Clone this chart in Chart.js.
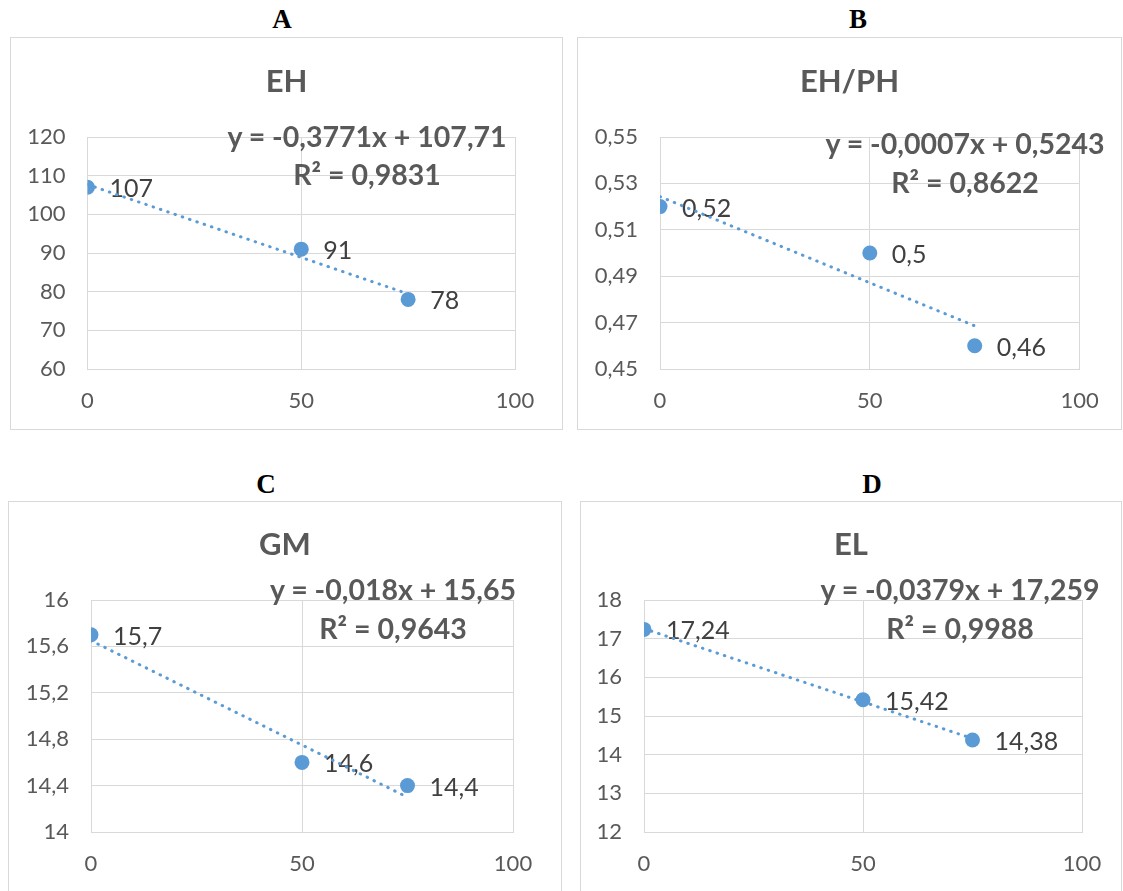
<!DOCTYPE html>
<html>
<head>
<meta charset="utf-8">
<script src="https://cdn.jsdelivr.net/npm/chart.js@4.4.1/dist/chart.umd.min.js"></script>
<style>
  html, body { margin:0; padding:0; background:#fff; width:1123px; height:891px; overflow:hidden; }
  .box { position:absolute; border:1px solid #d9d9d9; box-sizing:border-box; background:#fff; }
  .box canvas { position:absolute; left:0; top:0; }
  .txt { position:absolute; white-space:nowrap; line-height:1; transform:translateX(-50%); }
  .letter { font-family:"Liberation Serif", "DejaVu Serif", serif; font-weight:bold; font-size:27px; color:#000; }
  .title { font-family:Lato, sans-serif; font-weight:bold; font-size:31px; color:#595959; }
  .eq { font-family:Lato, sans-serif; font-weight:bold; font-size:28.5px; color:#595959; }
</style>
</head>
<body>
<script>
// ---- data ----
const doseX = [0, 50, 75];
const ehValues = [107, 91, 78];
const ehphValues = [0.52, 0.5, 0.46];
const gmValues = [15.7, 14.6, 14.4];
const elValues = [17.24, 15.42, 14.38];

// linear trend lines (start/end values from the fitted equations)
const trendX = [0, 75];
const ehTrend = [107.71, 79.43];
const ehphTrend = [0.5243, 0.4686];
const gmTrend = [15.65, 14.30];
const elTrend = [17.259, 14.417];

// axis ticks
const xTicks = [0, 50, 100];
const ehTicks = [60, 70, 80, 90, 100, 110, 120];
const ehphTicks = [0.45, 0.47, 0.49, 0.51, 0.53, 0.55];
const gmTicks = [14, 14.4, 14.8, 15.2, 15.6, 16];
const elTicks = [12, 13, 14, 15, 16, 17, 18];

// labels
const panelLetters = ['A', 'B', 'C', 'D'];
const chartTitles = ['EH', 'EH/PH', 'GM', 'EL'];
const equations = ['y = -0,3771x + 107,71', 'y = -0,0007x + 0,5243', 'y = -0,018x + 15,65', 'y = -0,0379x + 17,259'];
const rSquared = ['R² = 0,9831', 'R² = 0,8622', 'R² = 0,9643', 'R² = 0,9988'];

// ---- layout ----
const layout = [
  { letter:[282, 29], box:{l:10, t:37, w:553, h:393}, plot:{l:86.5, r:514, t:136, b:368}, titleY:92, eqX:367, eqY:[147, 185] },
  { letter:[858, 29], box:{l:577, t:37, w:545, h:393}, plot:{l:659, r:1078.6, t:136, b:368}, titleY:92, eqX:965, eqY:[154, 193] },
  { letter:[266, 494], box:{l:8, t:501, w:554, h:400}, plot:{l:90, r:512, t:599, b:831}, titleY:555, eqX:393, eqY:[600, 639] },
  { letter:[872, 494], box:{l:580, t:501, w:542, h:400}, plot:{l:643, r:1081, t:599, b:831}, titleY:555, eqX:960, eqY:[600, 639] }
];
const seriesList = [ehValues, ehphValues, gmValues, elValues];
const trendList = [ehTrend, ehphTrend, gmTrend, elTrend];
const yTickList = [ehTicks, ehphTicks, gmTicks, elTicks];

const BLUE = '#5B9BD5';
const GRID = '#d9d9d9';
const fmt = v => Number(v).toLocaleString('de-DE', {maximumFractionDigits: 4});

Chart.defaults.font.family = 'Lato';
Chart.defaults.animation = false;

const pointLabels = {
  id: 'pointLabels',
  beforeDatasetsDraw(chart) {
    const meta = chart.getDatasetMeta(1);
    const data = chart.data.datasets[1].data;
    const ctx = chart.ctx;
    ctx.save();
    ctx.font = '25px Lato';
    ctx.fillStyle = '#404040';
    ctx.textAlign = 'left';
    ctx.textBaseline = 'middle';
    meta.data.forEach((el, i) => {
      ctx.fillText(fmt(data[i].y), el.x + 22, el.y + 2);
    });
    ctx.restore();
  }
};

function addText(cls, text, cx, baseline, size) {
  const d = document.createElement('div');
  d.className = 'txt ' + cls;
  d.textContent = text;
  const asc = cls === 'letter' ? 0.8375 : 0.887;
  d.style.left = cx + 'px';
  d.style.top = (baseline - asc * size) + 'px';
  document.body.appendChild(d);
}

layout.forEach((L, k) => {
  const box = document.createElement('div');
  box.className = 'box';
  box.style.left = L.box.l + 'px';
  box.style.top = L.box.t + 'px';
  box.style.width = L.box.w + 'px';
  box.style.height = L.box.h + 'px';
  const cv = document.createElement('canvas');
  cv.width = L.box.w; cv.height = L.box.h;
  cv.style.width = L.box.w + 'px'; cv.style.height = L.box.h + 'px';
  box.appendChild(cv);
  document.body.appendChild(box);

  const yW = L.plot.l - L.box.l;
  const xH = L.box.t + L.box.h - L.plot.b;
  const padTop = L.plot.t - L.box.t;
  const padRight = L.box.l + L.box.w - L.plot.r;
  const yT = yTickList[k];

  new Chart(cv, {
    type: 'scatter',
    data: {
      datasets: [
        {
          data: trendX.map((x, i) => ({x, y: trendList[k][i]})),
          showLine: true,
          borderColor: BLUE,
          borderWidth: 3,
          borderDash: [0.5, 7.2],
          borderCapStyle: 'round',
          pointRadius: 0,
          fill: false
        },
        {
          data: doseX.map((x, i) => ({x, y: seriesList[k][i]})),
          showLine: false,
          pointRadius: 7.5,
          pointHoverRadius: 7.5,
          backgroundColor: BLUE,
          borderWidth: 0
        }
      ]
    },
    options: {
      responsive: false,
      animation: false,
      devicePixelRatio: 1,
      layout: { padding: { top: padTop, right: padRight, bottom: 0, left: 0 } },
      plugins: { legend: { display: false }, tooltip: { enabled: false } },
      events: [],
      scales: {
        x: {
          type: 'linear', min: 0, max: 100,
          afterBuildTicks: s => { s.ticks = xTicks.map(v => ({value: v})); },
          afterFit: s => { s.height = xH; },
          grid: { color: GRID, lineWidth: 1, drawTicks: false },
          border: { color: GRID, width: 1 },
          ticks: { color: '#595959', font: { size: 22 }, padding: 19, maxRotation: 0, callback: v => fmt(v) }
        },
        y: {
          type: 'linear', min: yT[0], max: yT[yT.length - 1],
          afterBuildTicks: s => { s.ticks = yT.map(v => ({value: v})); },
          afterFit: s => { s.width = yW; },
          grid: { color: GRID, lineWidth: 1, drawTicks: false },
          border: { color: GRID, width: 1 },
          ticks: { color: '#595959', font: { size: 22 }, padding: 22, callback: v => fmt(v) }
        }
      }
    },
    plugins: [pointLabels]
  });

  const cx = L.box.l + L.box.w / 2;
  addText('letter', panelLetters[k], L.letter[0], L.letter[1], 27);
  addText('title', chartTitles[k], cx, L.titleY, 31);
  addText('eq', equations[k], L.eqX, L.eqY[0], 28.5);
  addText('eq', rSquared[k], L.eqX, L.eqY[1], 28.5);
});
</script>
</body>
</html>
